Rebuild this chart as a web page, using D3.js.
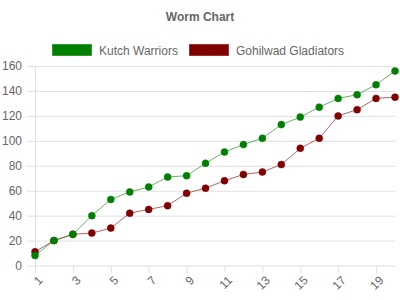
<!DOCTYPE html>
<html>
<head>
<meta charset="utf-8">
<script src="https://cdn.jsdelivr.net/npm/d3@7"></script>
<style>
  body { margin: 0; background: #fff; }
  svg { display: block; font-family: "Liberation Sans", Arial, sans-serif; }
</style>
</head>
<body>
<div id="chart"></div>
<script>
// overs 1..20
var overs = d3.range(1, 21);
var seriesNames = ['Kutch Warriors', 'Gohilwad Gladiators'];
var kutch = [8, 20, 25, 40, 53, 59, 63, 71, 72, 82, 91, 97, 102, 113, 119, 127, 134, 137, 145, 156];
var gohilwad = [11, 20, 25, 26, 30, 42, 45, 48, 58, 62, 68, 73, 75, 81, 94, 102, 120, 125, 134, 135];
var yTicks = [0, 20, 40, 60, 80, 100, 120, 140, 160];
var colors = ['#008000', '#800000'];

var width = 400, height = 300;
var svg = d3.select('#chart').append('svg')
  .attr('width', width)
  .attr('height', height);

var x = d3.scalePoint().domain(overs).range([35, 395]);
var y = d3.scaleLinear().domain([0, 160]).range([265.5, 66]);

// title
svg.append('text')
  .attr('x', 200).attr('y', 21)
  .attr('text-anchor', 'middle')
  .attr('font-size', 12).attr('font-weight', 'bold')
  .attr('fill', '#666')
  .text('Worm Chart');

// legend
var legendX = [52, 189];
var legend = svg.selectAll('.legend')
  .data(seriesNames)
  .enter().append('g')
  .attr('transform', function(d, i) { return 'translate(' + legendX[i] + ',44)'; });
legend.append('rect')
  .attr('x', 0.5).attr('y', 0.5)
  .attr('width', 39).attr('height', 11)
  .attr('fill', function(d, i) { return colors[i]; })
  .attr('stroke', function(d, i) { return colors[i]; })
  .attr('stroke-opacity', 0.6)
  .attr('stroke-width', 1);
legend.append('text')
  .attr('x', 47).attr('y', 10.5)
  .attr('font-size', 12).attr('fill', '#666')
  .text(function(d) { return d; });

// y grid + labels
var yAxis = d3.axisLeft(y).tickValues(yTicks).tickSize(-360 - 8).tickPadding(5);
var gy = svg.append('g')
  .attr('transform', 'translate(27,0)')
  .call(yAxis);
gy.select('.domain').remove();
gy.selectAll('.tick line')
  .attr('stroke', '#e0e0e0')
  .attr('transform', 'translate(368,0)')
  .attr('x1', -368).attr('x2', 0);
gy.selectAll('.tick text')
  .attr('font-size', 12).attr('fill', '#666')
  .attr('font-family', '"Liberation Sans", Arial, sans-serif');

// vertical axis line
svg.append('line')
  .attr('x1', 35.5).attr('x2', 35.5)
  .attr('y1', 66).attr('y2', 273)
  .attr('stroke', '#e0e0e0');

// x axis: labels every other over
var xLabels = overs.filter(function(d) { return d % 2 === 1; });
var xAxis = d3.axisBottom(x).tickValues(xLabels).tickSize(7).tickFormat(d3.format('d'));
var gx = svg.append('g')
  .attr('transform', 'translate(0,266)')
  .call(xAxis);
gx.select('.domain').remove();
gx.selectAll('.tick line').attr('stroke', '#e0e0e0');
gx.selectAll('.tick text')
  .attr('font-size', 12).attr('fill', '#666')
  .attr('font-family', '"Liberation Sans", Arial, sans-serif')
  .attr('text-anchor', 'end')
  .attr('dy', '0.35em')
  .attr('transform', 'translate(5,12) rotate(-45)')
  .attr('y', 0).attr('x', 0);

// series (first series drawn on top)
var series = [kutch, gohilwad];
var line = d3.line()
  .x(function(d, i) { return x(overs[i]); })
  .y(function(d) { return y(d); });

[1, 0].forEach(function(s) {
  var values = series[s];
  svg.append('path')
    .datum(values)
    .attr('d', line)
    .attr('fill', 'none')
    .attr('stroke', colors[s])
    .attr('stroke-opacity', 0.6)
    .attr('stroke-width', 1);
  svg.selectAll('.pt' + s)
    .data(values)
    .enter().append('circle')
    .attr('class', 'pt' + s)
    .attr('cx', function(d, i) { return x(overs[i]); })
    .attr('cy', function(d) { return y(d); })
    .attr('r', 3.5)
    .attr('fill', colors[s])
    .attr('stroke', colors[s])
    .attr('stroke-opacity', 0.5)
    .attr('stroke-width', 1);
});
</script>
</body>
</html>
